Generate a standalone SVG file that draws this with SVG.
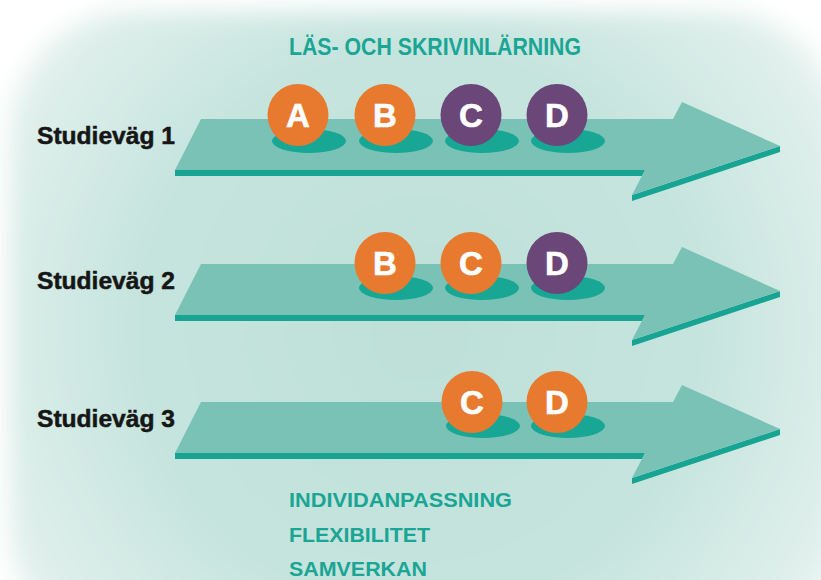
<svg xmlns="http://www.w3.org/2000/svg" xmlns:xlink="http://www.w3.org/1999/xlink" width="821" height="580" viewBox="0 0 821 580">
  <defs>
    <radialGradient id="bg" gradientUnits="userSpaceOnUse" cx="420" cy="330" r="520">
      <stop offset="0" stop-color="#bde0d8"/>
      <stop offset="0.55" stop-color="#c6e4de"/>
      <stop offset="0.85" stop-color="#dfefeb"/>
      <stop offset="1" stop-color="#f2f9f7"/>
    </radialGradient>
    <filter id="soft" x="-10%" y="-10%" width="120%" height="120%">
      <feGaussianBlur stdDeviation="12"/>
    </filter>
    <g id="arrow">
      <polygon class="band" points="175,170 645,170 642,176 175,176"/>
      <polygon class="band" points="632,195 780,146 780,152 632,201"/>
      <polygon class="top" points="175,170 201,119 673,119 682,102 780,146 632,195 645,170"/>
    </g>
    <style>
      .top { fill: #79c2b5; }
      .band { fill: #17a493; }
      .shadow { fill: #19a795; }
      .orange { fill: #e77a2f; }
      .purple { fill: #6a4679; }
      .letter { font-family: "Liberation Sans", Arial, sans-serif; font-weight: bold; font-size: 33px; fill: #ffffff; text-anchor: middle; stroke: #ffffff; stroke-width: 0.6px; }
      .label { font-family: "Liberation Sans", Arial, sans-serif; font-weight: bold; font-size: 23px; fill: #161616; stroke: #161616; stroke-width: 0.5px; }
      .teal { font-family: "Liberation Sans", Arial, sans-serif; font-weight: bold; fill: #1aa595; }
    </style>
  </defs>

  <rect width="821" height="580" fill="#ffffff"/>
  <rect x="10" y="12" width="832" height="640" rx="120" fill="url(#bg)" filter="url(#soft)"/>

  <text class="teal" x="289" y="55" font-size="23" textLength="292" lengthAdjust="spacingAndGlyphs">LÄS- OCH SKRIVINLÄRNING</text>

  <g id="connectors">
    <use xlink:href="#arrow"/>
    <use xlink:href="#arrow" transform="translate(0,145)"/>
    <use xlink:href="#arrow" transform="translate(0,283)"/>
  </g>

  <g id="studievag1">
    <text class="label" x="37" y="144" textLength="138" lengthAdjust="spacingAndGlyphs">Studieväg 1</text>
    <g id="s1-A">
      <ellipse class="shadow" cx="309" cy="141" rx="37" ry="12"/>
      <ellipse class="orange" cx="298" cy="115" rx="30.5" ry="31"/>
      <text class="letter" x="298" y="127">A</text>
    </g>
    <g id="s1-B">
      <ellipse class="shadow" cx="396" cy="141" rx="37" ry="12"/>
      <ellipse class="orange" cx="385" cy="115" rx="30.5" ry="31"/>
      <text class="letter" x="385" y="127">B</text>
    </g>
    <g id="s1-C">
      <ellipse class="shadow" cx="482" cy="141" rx="37" ry="12"/>
      <ellipse class="purple" cx="471" cy="115" rx="30.5" ry="31"/>
      <text class="letter" x="471" y="127">C</text>
    </g>
    <g id="s1-D">
      <ellipse class="shadow" cx="568" cy="141" rx="37" ry="12"/>
      <ellipse class="purple" cx="557" cy="115" rx="30.5" ry="31"/>
      <text class="letter" x="557" y="127">D</text>
    </g>
  </g>

  <g id="studievag2">
    <text class="label" x="37" y="289" textLength="138" lengthAdjust="spacingAndGlyphs">Studieväg 2</text>
    <g id="s2-B">
      <ellipse class="shadow" cx="396" cy="288" rx="37" ry="12"/>
      <ellipse class="orange" cx="385" cy="263" rx="30.5" ry="31"/>
      <text class="letter" x="385" y="275">B</text>
    </g>
    <g id="s2-C">
      <ellipse class="shadow" cx="482" cy="288" rx="37" ry="12"/>
      <ellipse class="orange" cx="471" cy="263" rx="30.5" ry="31"/>
      <text class="letter" x="471" y="275">C</text>
    </g>
    <g id="s2-D">
      <ellipse class="shadow" cx="568" cy="288" rx="37" ry="12"/>
      <ellipse class="purple" cx="557" cy="263" rx="30.5" ry="31"/>
      <text class="letter" x="557" y="275">D</text>
    </g>
  </g>

  <g id="studievag3">
    <text class="label" x="37" y="427" textLength="138" lengthAdjust="spacingAndGlyphs">Studieväg 3</text>
    <g id="s3-C">
      <ellipse class="shadow" cx="483" cy="426" rx="37" ry="12"/>
      <ellipse class="orange" cx="472" cy="402" rx="30.5" ry="31"/>
      <text class="letter" x="472" y="414">C</text>
    </g>
    <g id="s3-D">
      <ellipse class="shadow" cx="568" cy="426" rx="37" ry="12"/>
      <ellipse class="orange" cx="557" cy="402" rx="30.5" ry="31"/>
      <text class="letter" x="557" y="414">D</text>
    </g>
  </g>

  <g id="keywords">
    <text class="teal" x="289" y="507" font-size="20" textLength="223" lengthAdjust="spacingAndGlyphs">INDIVIDANPASSNING</text>
    <text class="teal" x="289" y="542" font-size="20" textLength="141" lengthAdjust="spacingAndGlyphs">FLEXIBILITET</text>
    <text class="teal" x="289" y="576" font-size="20" textLength="138" lengthAdjust="spacingAndGlyphs">SAMVERKAN</text>
  </g>
</svg>
